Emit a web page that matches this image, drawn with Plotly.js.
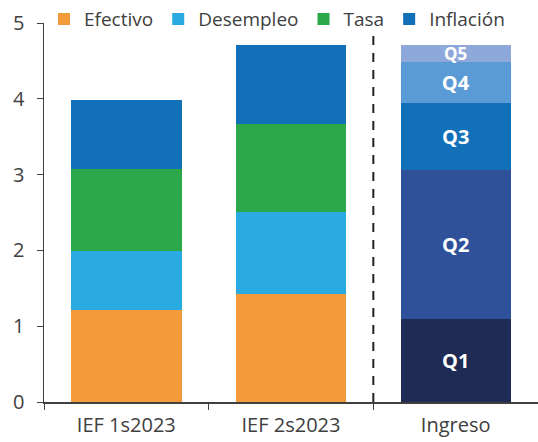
<!DOCTYPE html>
<html>
<head>
<meta charset="utf-8">
<script src="https://cdn.plot.ly/plotly-3.0.1.min.js"></script>
<style>html,body{margin:0;padding:0;background:#fff}#chart{width:538px;height:442px}</style>
</head>
<body>
<div id="chart"></div>
<script>
// categories
var cats = ['IEF 1s2023', 'IEF 2s2023', 'Ingreso'];
var iefCats = ['IEF 1s2023', 'IEF 2s2023'];

// IEF components (stacked)
var efectivo = [1.22, 1.43];
var desempleo = [0.77, 1.08];
var tasa = [1.09, 1.16];
var inflacion = [0.91, 1.04];

// Ingreso by quintile
var quintiles = ['Q1', 'Q2', 'Q3', 'Q4', 'Q5'];
var ingreso = [1.10, 1.96, 0.89, 0.54, 0.22];
var qColors = ['#1f2a55', '#2e5199', '#1270b8', '#5b9bd5', '#8fa8da'];

var font = 'Open Sans, Segoe UI, sans-serif';

function iefTrace(name, y, color) {
  return {
    x: iefCats,
    y: y,
    name: name,
    type: 'bar',
    marker: {color: color},
    width: 0.67,
    hoverinfo: 'skip'
  };
}

var data = [
  iefTrace('Efectivo', efectivo, '#f39a3a'),
  iefTrace('Desempleo', desempleo, '#29abe2'),
  iefTrace('Tasa', tasa, '#2ba84a'),
  iefTrace('Inflación', inflacion, '#1270b8')
];

quintiles.forEach(function (q, i) {
  data.push({
    x: ['Ingreso'],
    y: [ingreso[i]],
    name: q,
    type: 'bar',
    marker: {color: qColors[i]},
    width: 0.67,
    text: [q],
    textposition: 'inside',
    insidetextanchor: 'middle',
    constraintext: 'none',
    // top quintile sits in a thin slice, so its label is a bit smaller
    textfont: {color: '#ffffff', size: i === 4 ? 17 : 20, family: font, weight: 'bold'},
    showlegend: false,
    hoverinfo: 'skip'
  });
});

var layout = {
  width: 538,
  height: 442,
  margin: {l: 44, r: 0, t: 21, b: 40},
  barmode: 'stack',
  paper_bgcolor: '#ffffff',
  plot_bgcolor: '#ffffff',
  font: {family: font, color: '#404040', size: 20},
  showlegend: true,
  legend: {
    orientation: 'h',
    x: 0.0,
    xanchor: 'left',
    y: 1.01,
    yanchor: 'middle',
    font: {size: 19, color: '#404040'},
    itemwidth: 30,
    traceorder: 'normal',
    bgcolor: 'rgba(0,0,0,0)'
  },
  xaxis: {
    type: 'category',
    categoryorder: 'array',
    categoryarray: cats,
    range: [-0.5, 2.5],
    showline: true,
    linecolor: '#404040',
    linewidth: 1.5,
    ticks: 'outside',
    tickson: 'boundaries',
    ticklen: 6,
    tickcolor: '#404040',
    showgrid: false,
    ticklabelstandoff: 4,
    tickfont: {size: 20, color: '#404040'}
  },
  yaxis: {
    range: [0, 5],
    dtick: 1,
    showline: true,
    linecolor: '#404040',
    linewidth: 1.5,
    ticks: 'outside',
    ticklen: 6,
    tickcolor: '#404040',
    showgrid: false,
    zeroline: false,
    ticklabelstandoff: 8,
    tickfont: {size: 20, color: '#404040'}
  },
  shapes: [{
    type: 'line',
    xref: 'x',
    yref: 'paper',
    x0: 1.5, x1: 1.5,
    y0: 0, y1: 0.98,
    line: {color: '#222222', width: 2, dash: '9px,8px'}
  }]
};

Plotly.newPlot('chart', data, layout, {displayModeBar: false, staticPlot: true});
</script>
</body>
</html>
